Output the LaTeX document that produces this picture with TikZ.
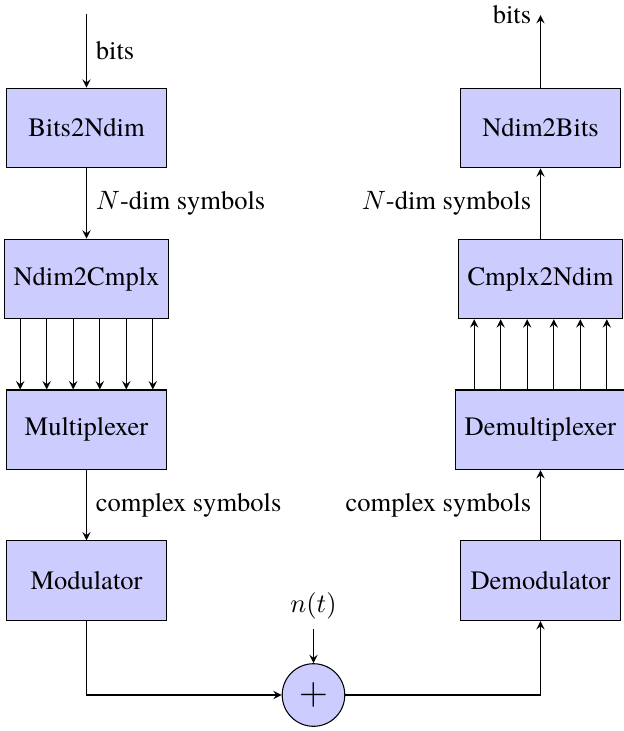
\documentclass[tikz,border=0pt]{standalone}
\usepackage[no-math]{fontspec}
\setmainfont{texgyretermes}[Extension=.otf,UprightFont=*-regular,ItalicFont=*-italic,BoldFont=*-bold,BoldItalicFont=*-bolditalic]
\usetikzlibrary{arrows}
\begin{document}
\begin{tikzpicture}[x=0.377pt,y=-0.377pt,
  blk/.style={draw, fill=blue!20, minimum width=6em, minimum height=3em, inner sep=3.33pt},
  arr/.style={-stealth, line width=0.4pt},
  sumnode/.style={draw, circle, fill=blue!20, minimum size=23.6pt, inner sep=0pt}]
\useasboundingbox (0,0) rectangle (624,731);
% left column
\node[blk] (b2n) at (86.5,128) {Bits2Ndim};
\node[blk] (n2c) at (86.5,278.9) {Ndim2Cmplx};
\node[blk] (mux) at (86.5,429.8) {Multiplexer};
\node[blk] (mod) at (86.5,580.7) {Modulator};
% right column
\node[blk] (n2b) at (540.5,128) {Ndim2Bits};
\node[blk] (c2n) at (540.5,278.9) {Cmplx2Ndim};
\node[blk] (demux) at (540.5,429.8) {Demultiplexer};
\node[blk] (demod) at (540.5,580.7) {Demodulator};
% channel
\node[sumnode] (sum) at (313.5,695) {\Large$+$};
\node (noise) at (313.5,606) {$n(t)$};
\coordinate (in) at (86.5,14);
\coordinate (out) at (540.5,15);
% transmitter
\draw[arr] (in) -- node[right] {bits} (b2n);
\draw[arr] (b2n) -- node[right] {$N$-dim symbols} (n2c);
\foreach \d in {-25,-15,-5,5,15,25}
  \draw[arr] ([xshift=\d pt]n2c.south) -- ([xshift=\d pt]mux.north);
\draw[arr] (mux) -- node[right] {complex symbols} (mod);
\draw[arr] (mod.south) |- (sum.west);
\draw[arr] (noise) -- (sum);
% receiver
\draw[arr] (sum.east) -| (demod.south);
\draw[arr] (demod) -- node[left] {complex symbols} (demux);
\foreach \d in {-25,-15,-5,5,15,25}
  \draw[arr] ([xshift=\d pt]demux.north) -- ([xshift=\d pt]c2n.south);
\draw[arr] (c2n) -- node[left] {$N$-dim symbols} (n2b);
\draw[arr] (n2b) -- (out) node[left] {bits};
\end{tikzpicture}
\end{document}
